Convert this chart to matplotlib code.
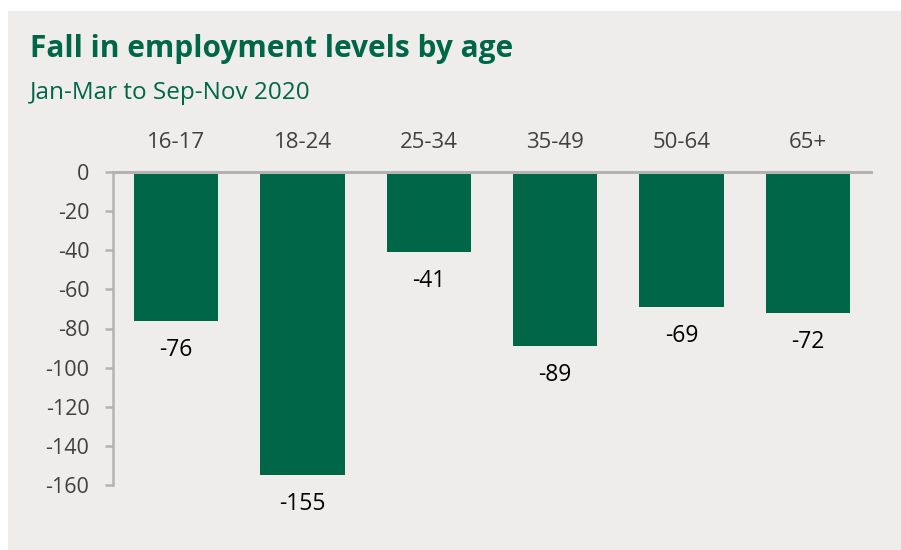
import matplotlib.pyplot as plt
from matplotlib.patches import Rectangle

# data
age_groups = ['16-17', '18-24', '25-34', '35-49', '50-64', '65+']
change = [-76, -155, -41, -89, -69, -72]
y_ticks = [0, -20, -40, -60, -80, -100, -120, -140, -160]

green = '#006648'
panel = '#eeedeb'
axis_grey = '#b3b3b3'
text_grey = '#404040'

W, H = 901, 550
fig = plt.figure(figsize=(W / 100, H / 100), dpi=100)
fig.patch.set_facecolor('white')
bg = Rectangle((8 / W, 0), 1 - 8 / W, 1 - 11 / H, transform=fig.transFigure,
               facecolor=panel, edgecolor='none')
bg.set_zorder(-10)
fig.add_artist(bg)

fig.text(30 / W, 1 - 57 / H, 'Fall in employment levels by age', fontsize=21.5,
         fontweight='bold', color=green, family='Open Sans', va='baseline')
fig.text(30 / W, 1 - 99 / H, 'Jan-Mar to Sep-Nov 2020', fontsize=17.5,
         color=green, family='Open Sans', va='baseline')

ax = fig.add_axes([113 / W, 1 - 485 / H, (871 - 113) / W, (485 - 172) / H])
ax.set_zorder(2)
ax.set_facecolor('none')
x = list(range(len(age_groups)))
ax.bar(x, change, width=0.665, color=green, zorder=3)

for i, v in zip(x, change):
    ax.annotate(str(v), (i, v), xytext=(0, -29), textcoords='offset pixels',
                ha='center', va='center', fontsize=16.5, color='black', family='Open Sans')

ax.set_xlim(-0.5, len(age_groups) - 0.5)
ax.set_ylim(-160, 0)
ax.set_yticks(y_ticks)
ax.set_yticklabels([str(t) for t in y_ticks], fontsize=15.5, color=text_grey, family='Open Sans')
ax.tick_params(axis='y', length=6, width=1.8, color=axis_grey, pad=11)

ax.xaxis.tick_top()
ax.set_xticks(x)
ax.set_xticklabels(age_groups, fontsize=16, color=text_grey, family='Open Sans')
ax.tick_params(axis='x', length=0, pad=14)

for s in ['right', 'bottom']:
    ax.spines[s].set_visible(False)
ax.spines['left'].set_color(axis_grey)
ax.spines['left'].set_linewidth(1.8)
ax.spines['top'].set_color(axis_grey)
ax.spines['top'].set_linewidth(2.2)
ax.spines['top'].set_zorder(4)

fig.savefig('out.png', dpi=100, facecolor=fig.get_facecolor())
